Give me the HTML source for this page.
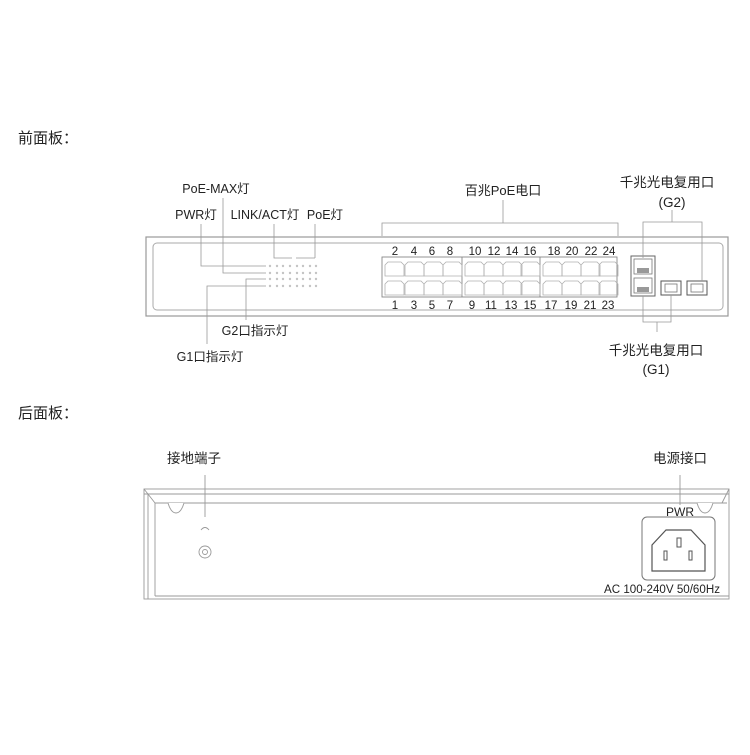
<!DOCTYPE html>
<html><head><meta charset="utf-8"><style>
html,body{margin:0;padding:0;background:#fff;}
svg text{font-family:"Liberation Sans","Noto Sans CJK SC",sans-serif;fill:#222;}
</style></head><body>
<svg width="750" height="750" viewBox="0 0 750 750" xmlns="http://www.w3.org/2000/svg">
<defs>
<g id="ledrow" fill="#c4c4c4">
<circle cx="270" cy="0" r="1.2"/><circle cx="277" cy="0" r="1.2"/><circle cx="283" cy="0" r="1.2"/><circle cx="290" cy="0" r="1.2"/>
<circle cx="297" cy="0" r="1.2"/><circle cx="303" cy="0" r="1.2"/><circle cx="310" cy="0" r="1.2"/><circle cx="316" cy="0" r="1.2"/>
</g>
</defs>
<text x="18" y="143" font-size="15">前面板：</text>
<text x="18" y="418" font-size="15">后面板：</text>

<!-- front panel -->
<rect x="146" y="237" width="582" height="79" fill="none" stroke="#999" stroke-width="1.2"/>
<rect x="153" y="243" width="570" height="67" rx="4" fill="none" stroke="#aaa" stroke-width="1"/>

<g font-size="12.5" text-anchor="middle">
<text x="216" y="193">PoE-MAX灯</text>
<text x="196" y="219">PWR灯</text>
<text x="265" y="219">LINK/ACT灯</text>
<text x="325" y="219">PoE灯</text>
<text x="255" y="335">G2口指示灯</text>
<text x="210" y="361">G1口指示灯</text>
</g>
<g stroke="#999" stroke-width="0.8" fill="none">
<polyline points="201,224 201,266 266,266"/>
<polyline points="223,198 223,273 266,273"/>
<polyline points="274,224 274,258 292,258"/>
<line x1="296" y1="258" x2="315" y2="258"/>
<line x1="315" y1="224" x2="315" y2="258"/>
<polyline points="246,320 246,279 266,279"/>
<polyline points="207,344 207,286 266,286"/>
</g>
<use href="#ledrow" y="266"/><use href="#ledrow" y="273"/><use href="#ledrow" y="279"/><use href="#ledrow" y="286"/>

<!-- PoE bracket -->
<g stroke="#999" stroke-width="0.8" fill="none">
<polyline points="382,236 382,223 618,223 618,236"/>
<line x1="503" y1="200" x2="503" y2="223"/>
</g>
<text x="503" y="195" font-size="13" text-anchor="middle">百兆PoE电口</text>

<!-- ports -->
<g stroke="#888" stroke-width="0.9" fill="none">
<rect x="382" y="257" width="235" height="40"/>
<line x1="462" y1="257" x2="462" y2="297"/>
<line x1="540" y1="257" x2="540" y2="297"/>
</g>
<g fill="none" stroke="#b0b0b0" stroke-width="0.8">
<path d="M385,276 v-11 l3,-3 h13 l3,3 v11 z"/><path d="M405,276 v-11 l3,-3 h13 l3,3 v11 z"/><path d="M424,276 v-11 l3,-3 h13 l3,3 v11 z"/><path d="M443,276 v-11 l3,-3 h13 l3,3 v11 z"/>
<path d="M465,276 v-11 l3,-3 h13 l3,3 v11 z"/><path d="M484,276 v-11 l3,-3 h13 l3,3 v11 z"/><path d="M503,276 v-11 l3,-3 h13 l3,3 v11 z"/><path d="M521,276 v-11 l3,-3 h13 l3,3 v11 z"/>
<path d="M543,276 v-11 l3,-3 h13 l3,3 v11 z"/><path d="M562,276 v-11 l3,-3 h13 l3,3 v11 z"/><path d="M581,276 v-11 l3,-3 h13 l3,3 v11 z"/><path d="M599,276 v-11 l3,-3 h13 l3,3 v11 z"/>
<path d="M385,295 v-11 l3,-3 h13 l3,3 v11 z"/><path d="M405,295 v-11 l3,-3 h13 l3,3 v11 z"/><path d="M424,295 v-11 l3,-3 h13 l3,3 v11 z"/><path d="M443,295 v-11 l3,-3 h13 l3,3 v11 z"/>
<path d="M465,295 v-11 l3,-3 h13 l3,3 v11 z"/><path d="M484,295 v-11 l3,-3 h13 l3,3 v11 z"/><path d="M503,295 v-11 l3,-3 h13 l3,3 v11 z"/><path d="M521,295 v-11 l3,-3 h13 l3,3 v11 z"/>
<path d="M543,295 v-11 l3,-3 h13 l3,3 v11 z"/><path d="M562,295 v-11 l3,-3 h13 l3,3 v11 z"/><path d="M581,295 v-11 l3,-3 h13 l3,3 v11 z"/><path d="M599,295 v-11 l3,-3 h13 l3,3 v11 z"/>
</g>
<g font-size="11.5" text-anchor="middle">
<text x="395" y="255">2</text><text x="414" y="255">4</text><text x="432" y="255">6</text><text x="450" y="255">8</text>
<text x="475" y="255">10</text><text x="494" y="255">12</text><text x="512" y="255">14</text><text x="530" y="255">16</text>
<text x="554" y="255">18</text><text x="572" y="255">20</text><text x="591" y="255">22</text><text x="609" y="255">24</text>
<text x="395" y="309">1</text><text x="414" y="309">3</text><text x="432" y="309">5</text><text x="450" y="309">7</text>
<text x="472" y="309">9</text><text x="491" y="309">11</text><text x="511" y="309">13</text><text x="530" y="309">15</text>
<text x="551" y="309">17</text><text x="571" y="309">19</text><text x="590" y="309">21</text><text x="608" y="309">23</text>
</g>

<!-- combo ports -->
<rect x="631" y="256" width="24" height="40" fill="none" stroke="#666" stroke-width="1"/>
<rect x="634" y="259" width="18" height="15" fill="none" stroke="#777" stroke-width="0.8"/>
<rect x="637" y="268" width="12" height="5" fill="#999"/>
<rect x="634" y="278" width="18" height="15" fill="none" stroke="#777" stroke-width="0.8"/>
<rect x="637" y="287" width="12" height="5" fill="#999"/>
<rect x="661" y="281" width="20" height="14" fill="none" stroke="#555" stroke-width="1"/>
<rect x="665" y="284" width="12" height="8" fill="none" stroke="#777" stroke-width="0.8"/>
<rect x="687" y="281" width="20" height="14" fill="none" stroke="#555" stroke-width="1"/>
<rect x="691" y="284" width="12" height="8" fill="none" stroke="#777" stroke-width="0.8"/>
<g stroke="#999" stroke-width="0.8" fill="none">
<polyline points="643,258 643,222 702,222 702,281"/>
<line x1="672" y1="210" x2="672" y2="222"/>
<polyline points="643,296 643,322 671,322 671,295"/>
<line x1="657" y1="322" x2="657" y2="332"/>
</g>
<g font-size="13.5" text-anchor="middle">
<text x="667" y="187">千兆光电复用口</text>
<text x="672" y="207">(G2)</text>
<text x="656" y="355">千兆光电复用口</text>
<text x="656" y="374">(G1)</text>
</g>

<!-- rear panel -->
<text x="194" y="463" font-size="13.5" text-anchor="middle">接地端子</text>
<text x="680" y="463" font-size="13.5" text-anchor="middle">电源接口</text>
<g stroke="#999" stroke-width="0.9" fill="none">
<rect x="144" y="489" width="585" height="110"/>
<line x1="144" y1="494" x2="729" y2="494"/>
<line x1="155" y1="503" x2="727" y2="503"/>
<line x1="155" y1="503" x2="155" y2="596"/>
<line x1="148" y1="494" x2="148" y2="599"/>
<line x1="155" y1="596" x2="729" y2="596"/>
<line x1="144" y1="489" x2="155" y2="503"/>
<line x1="729" y1="489" x2="722" y2="503"/>
<path d="M168,503 q3,10 8,10 q5,0 8,-10" fill="#fff"/>
<path d="M697,503 q3,10 8,10 q5,0 8,-10" fill="#fff"/>
<line x1="205" y1="475" x2="205" y2="517"/>
<line x1="680" y1="475" x2="680" y2="505"/>
<path d="M201,530 q4,-5 8,0"/>
<circle cx="205" cy="552" r="6"/>
<circle cx="205" cy="552" r="2.5"/>
</g>
<text x="680" y="516" font-size="12" text-anchor="middle">PWR</text>
<rect x="642" y="517" width="73" height="63" rx="5" fill="none" stroke="#777" stroke-width="1"/>
<path d="M652,571 v-26 l14,-15 h25 l14,15 v26 z" fill="none" stroke="#555" stroke-width="1.2"/>
<rect x="677" y="538" width="4" height="9" fill="none" stroke="#555" stroke-width="1"/>
<rect x="664" y="551" width="3" height="9" fill="none" stroke="#555" stroke-width="1"/>
<rect x="689" y="551" width="3" height="9" fill="none" stroke="#555" stroke-width="1"/>
<text x="604" y="593" font-size="11.5" textLength="116" lengthAdjust="spacingAndGlyphs">AC 100-240V 50/60Hz</text>
</svg>
</body></html>
